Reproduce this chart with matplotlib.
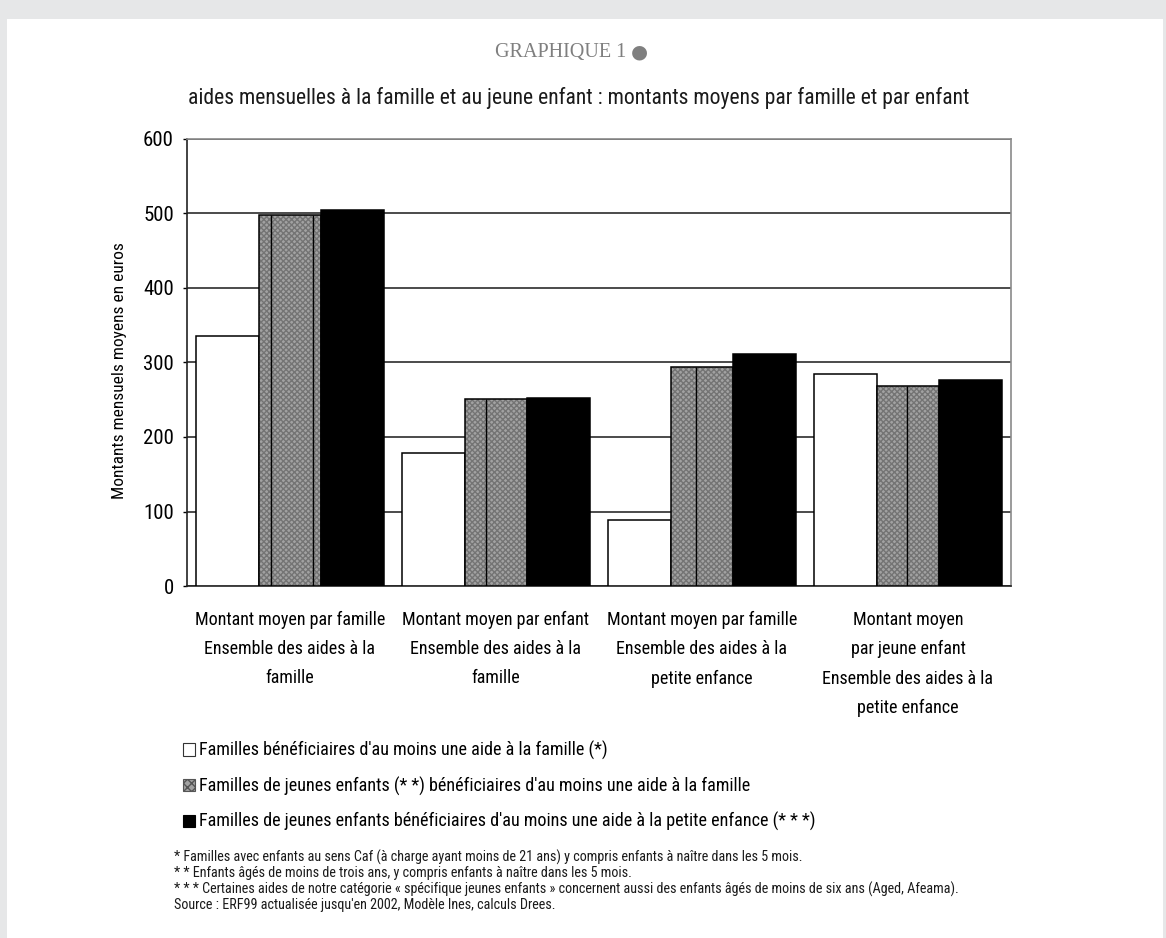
import matplotlib
matplotlib.use("Agg")
import matplotlib.pyplot as plt
from matplotlib.patches import Patch, Rectangle
import numpy as np

plt.rcParams['font.family'] = ['Roboto Condensed', 'DejaVu Sans']
plt.rcParams['font.stretch'] = 'condensed'

# ---- data -------------------------------------------------------------
categories = [
    "Montant moyen par famille\nEnsemble des aides à la\nfamille",
    "Montant moyen par enfant\nEnsemble des aides à la\nfamille",
    "Montant moyen par famille\nEnsemble des aides à la\npetite enfance",
    "Montant moyen\npar jeune enfant\nEnsemble des aides à la\npetite enfance",
]
familles_aide = [336, 178, 89, 285]
jeunes_enfants_aide_famille = [498, 251, 294, 269]
jeunes_enfants_aide_petite_enfance = [505, 253, 312, 277]

series_labels = [
    "Familles bénéficiaires d'au moins une aide à la famille (*)",
    "Familles de jeunes enfants (* *) bénéficiaires d'au moins une aide à la famille",
    "Familles de jeunes enfants bénéficiaires d'au moins une aide à la petite enfance (* * *)",
]
yticks = [0, 100, 200, 300, 400, 500, 600]

title = "GRAPHIQUE 1"
title_mark = "●"
subtitle = "aides mensuelles à la famille et au jeune enfant : montants moyens par famille et par enfant"
ylabel = "Montants mensuels moyens en euros"
notes = [
    "* Familles avec enfants au sens Caf (à charge ayant moins de 21 ans) y compris enfants à naître dans les 5 mois.",
    "* * Enfants âgés de moins de trois ans, y compris enfants à naître dans les 5 mois.",
    "* * * Certaines aides de notre catégorie « spécifique jeunes enfants » concernent aussi des enfants âgés de moins de six ans (Aged, Afeama).",
    "Source : ERF99 actualisée jusqu'en 2002, Modèle Ines, calculs Drees.",
]

# ---- figure -----------------------------------------------------------
W, H = 1166, 938
fig = plt.figure(figsize=(W / 100, H / 100), dpi=100, facecolor="#e6e7e8")
fig.patches.append(Rectangle((7 / W, 0), (1163 - 7) / W, 1 - 19 / H,
                             transform=fig.transFigure, facecolor="white",
                             edgecolor="none", zorder=-10))

ax = fig.add_axes([187 / W, 1 - 586 / H, (1011 - 187) / W, (586 - 139) / H])
ax.set_zorder(2)
ax.set_facecolor("white")

x = np.arange(len(categories))
bw = 0.913 / 3
gray_fill = "#a2a2a2"

ax.bar(x - bw, familles_aide, bw, color="white", edgecolor="black", linewidth=1.1, zorder=3)
gray_bars = ax.bar(x, jeunes_enfants_aide_famille, bw, color=gray_fill, edgecolor="#747474",
                   hatch="xxxxxx", linewidth=0, zorder=3)
ax.bar(x, jeunes_enfants_aide_famille, bw, color="none", edgecolor="black", linewidth=1.1, zorder=4)
ax.bar(x + bw, jeunes_enfants_aide_petite_enfance, bw, color="black", edgecolor="black",
       linewidth=1.1, zorder=3)

# thin seams printed inside the textured bars
seam_fracs = [[0.20, 0.86], [0.34], [0.40], [0.48]]
for rect, fracs in zip(gray_bars, seam_fracs):
    for f in fracs:
        xs = rect.get_x() + f * rect.get_width()
        ax.vlines(xs, 0, rect.get_height(), color="black", linewidth=1.0, zorder=4)

ax.set_xlim(-0.5, len(categories) - 0.5)
ax.set_ylim(0, 600)
ax.set_yticks(yticks)
ax.yaxis.grid(True, color="#1a1a1a", linewidth=1.1, zorder=1)
ax.set_axisbelow(True)

for s in ("left", "bottom"):
    ax.spines[s].set_color("#222222")
    ax.spines[s].set_linewidth(1.2)
for s in ("top", "right"):
    ax.spines[s].set_color("#8a8a8a")
    ax.spines[s].set_linewidth(1.2)

ax.tick_params(axis="y", direction="out", length=3, width=1, pad=6.5, labelsize=15)
ax.set_xticks(x)
ax.set_xticklabels(categories, fontsize=13, linespacing=1.8)
ax.tick_params(axis="x", length=0, pad=18)
ax.set_ylabel(ylabel, fontsize=12.5)
ax.yaxis.set_label_coords(-0.0728, 0.483)

# ---- titles -----------------------------------------------------------
fig.text(626 / W, 1 - 52 / H, title, ha="right", va="center", color="#7f7f7f",
         fontsize=14.5, family=["Liberation Serif", "DejaVu Serif"], stretch="normal")
fig.text(631 / W, 1 - 52 / H, title_mark, ha="left", va="center", color="#7f7f7f",
         fontsize=14, family=["DejaVu Sans"], stretch="normal")
fig.text(579 / W, 1 - 98 / H, subtitle, ha="center", va="center", color="#1a1a1a",
         fontsize=15.6)

# ---- legend -----------------------------------------------------------
handles = [
    Patch(facecolor="white", edgecolor="#333333", linewidth=0.8),
    Patch(facecolor=gray_fill, edgecolor="#555555", linewidth=0.8, hatch="xxxx"),
    Patch(facecolor="black", edgecolor="black", linewidth=0.8),
]
fig.legend(handles, series_labels, loc="upper left",
           bbox_to_anchor=(183 / W, 1 - 741 / H), frameon=False,
           fontsize=13.1, handlelength=0.65, handleheight=0.65,
           handletextpad=0.25, labelspacing=0.9, borderpad=0, borderaxespad=0)

# ---- notes ------------------------------------------------------------
for i, line in enumerate(notes):
    fig.text(174 / W, 1 - (857 + 16 * i) / H, line, ha="left", va="center",
             fontsize=10.2, color="#1a1a1a")

fig.savefig("out.png", dpi=100, facecolor=fig.get_facecolor())
